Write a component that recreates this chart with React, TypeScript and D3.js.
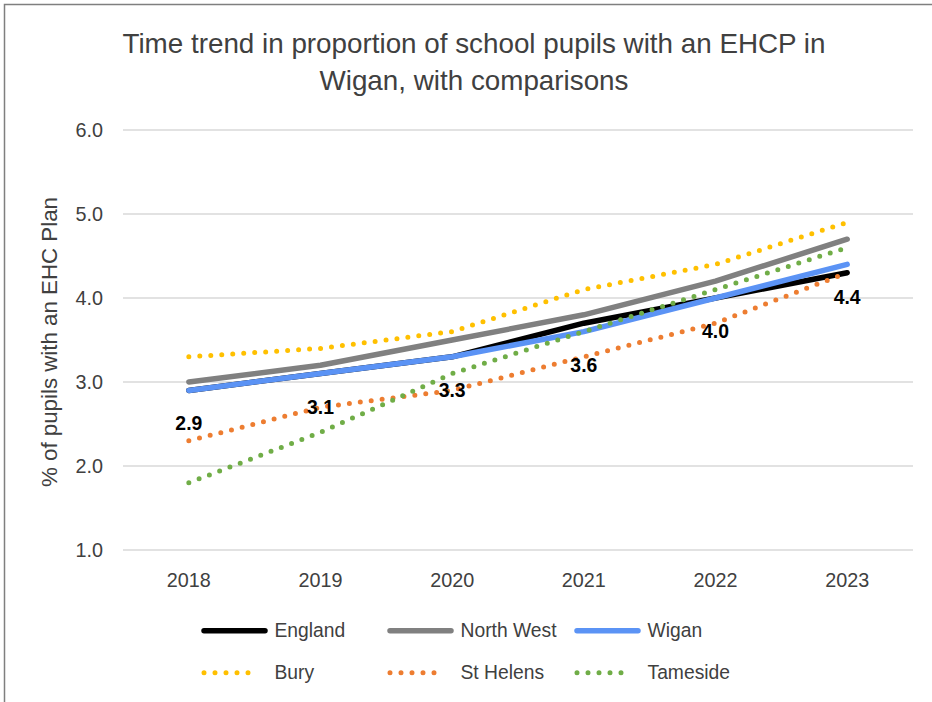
import React from "react";
import * as d3 from "d3";

// Chart data: percentage of school pupils with an EHC plan
const years = ["2018", "2019", "2020", "2021", "2022", "2023"];
const england = [2.9, 3.1, 3.3, 3.7, 4.0, 4.3];
const northWest = [3.0, 3.2, 3.5, 3.8, 4.2, 4.7];
const wigan = [2.9, 3.1, 3.3, 3.6, 4.0, 4.4];
const bury = [3.3, 3.4, 3.6, 4.1, 4.4, 4.9];
const stHelens = [2.3, 2.7, 2.9, 3.3, 3.7, 4.3];
const tameside = [1.8, 2.4, 3.1, 3.6, 4.1, 4.6];
const yTicks = [1, 2, 3, 4, 5, 6];

const titleLines = [
  "Time trend in proportion of school pupils with an EHCP in",
  "Wigan, with comparisons",
];
const yAxisTitle = "% of pupils with an EHC Plan";

type Series = { name: string; values: number[]; color: string; dotted: boolean };

const series: Series[] = [
  { name: "England", values: england, color: "#000000", dotted: false },
  { name: "North West", values: northWest, color: "#808080", dotted: false },
  { name: "Wigan", values: wigan, color: "#5b93f5", dotted: false },
  { name: "Bury", values: bury, color: "#ffc000", dotted: true },
  { name: "St Helens", values: stHelens, color: "#ed7d31", dotted: true },
  { name: "Tameside", values: tameside, color: "#70ad47", dotted: true },
];

const W = 932;
const H = 702;
const plot = { left: 123, right: 913, top: 130, bottom: 550 };
const FONT = "'Liberation Sans', Arial, sans-serif";
const TEXT = "#404040";

const DOT_DASH = "0 11";

export default function App() {
  const x = d3
    .scaleBand<string>()
    .domain(years)
    .range([plot.left, plot.right]);
  const xc = (y: string) => (x(y) as number) + x.bandwidth() / 2;
  const y = d3.scaleLinear().domain([1, 6]).range([plot.bottom, plot.top]);

  const line = d3
    .line<number>()
    .x((_, i) => xc(years[i]))
    .y((v) => y(v));

  const legendCols = [201, 387, 574];
  const legendRows = [630.7, 672.7];
  const symbolLen = 67;
  const textOffset = 73.5;

  return (
    <svg
      width={W}
      height={H}
      viewBox={`0 0 ${W} ${H}`}
      style={{ position: "fixed", left: 0, top: 0, background: "#fff" }}
      fontFamily={FONT}
    >
      <rect x={0} y={0} width={W} height={H} fill="#fff" />
      <rect
        x={4.5}
        y={4.5}
        width={W + 20}
        height={H + 20}
        fill="none"
        stroke="#7f7f7f"
        strokeWidth={1.5}
      />

      {/* title */}
      {titleLines.map((t, i) => (
        <text
          key={t}
          x={474}
          y={53 + i * 37}
          textAnchor="middle"
          fontSize={27.8}
          fill={TEXT}
        >
          {t}
        </text>
      ))}

      {/* gridlines and y tick labels */}
      {yTicks.map((t) => (
        <g key={t}>
          <line
            x1={plot.left}
            x2={plot.right}
            y1={y(t)}
            y2={y(t)}
            stroke="#d9d9d9"
            strokeWidth={1.3}
          />
          <text
            x={103}
            y={y(t)}
            dy="0.35em"
            textAnchor="end"
            fontSize={19.8}
            fill={TEXT}
          >
            {d3.format(".1f")(t)}
          </text>
        </g>
      ))}

      {/* x tick labels */}
      {years.map((yr) => (
        <text
          key={yr}
          x={xc(yr)}
          y={587}
          textAnchor="middle"
          fontSize={19.8}
          fill={TEXT}
        >
          {yr}
        </text>
      ))}

      {/* y axis title */}
      <text
        transform={`translate(57, ${(197 + 487) / 2}) rotate(-90)`}
        textAnchor="middle"
        fontSize={22.3}
        fill={TEXT}
      >
        {yAxisTitle}
      </text>

      {/* series lines */}
      {series.map((s) => (
        <path
          key={s.name}
          d={line(s.values) || ""}
          fill="none"
          stroke={s.color}
          strokeWidth={s.dotted ? 5 : 5.5}
          strokeLinecap="round"
          strokeLinejoin="round"
          strokeDasharray={s.dotted ? DOT_DASH : undefined}
        />
      ))}

      {/* Wigan data labels */}
      {wigan.map((v, i) => (
        <text
          key={years[i]}
          x={xc(years[i])}
          y={y(v) + 40}
          textAnchor="middle"
          fontSize={19.4}
          fontWeight="bold"
          fill="#000"
        >
          {d3.format(".1f")(v)}
        </text>
      ))}

      {/* legend */}
      {series.map((s, i) => {
        const col = i % 3;
        const row = Math.floor(i / 3);
        const lx = legendCols[col];
        const ly = legendRows[row];
        return (
          <g key={s.name}>
            {s.dotted ? (
              <line
                x1={lx + 3}
                x2={lx + 3 + 55}
                y1={ly}
                y2={ly}
                stroke={s.color}
                strokeWidth={5}
                strokeLinecap="round"
                strokeDasharray={DOT_DASH}
              />
            ) : (
              <line
                x1={lx + 3}
                x2={lx + symbolLen - 3}
                y1={ly}
                y2={ly}
                stroke={s.color}
                strokeWidth={5.5}
                strokeLinecap="round"
              />
            )}
            <text
              x={lx + textOffset}
              y={ly}
              dy="0.35em"
              fontSize={19.3}
              fill={TEXT}
            >
              {s.name}
            </text>
          </g>
        );
      })}
    </svg>
  );
}
